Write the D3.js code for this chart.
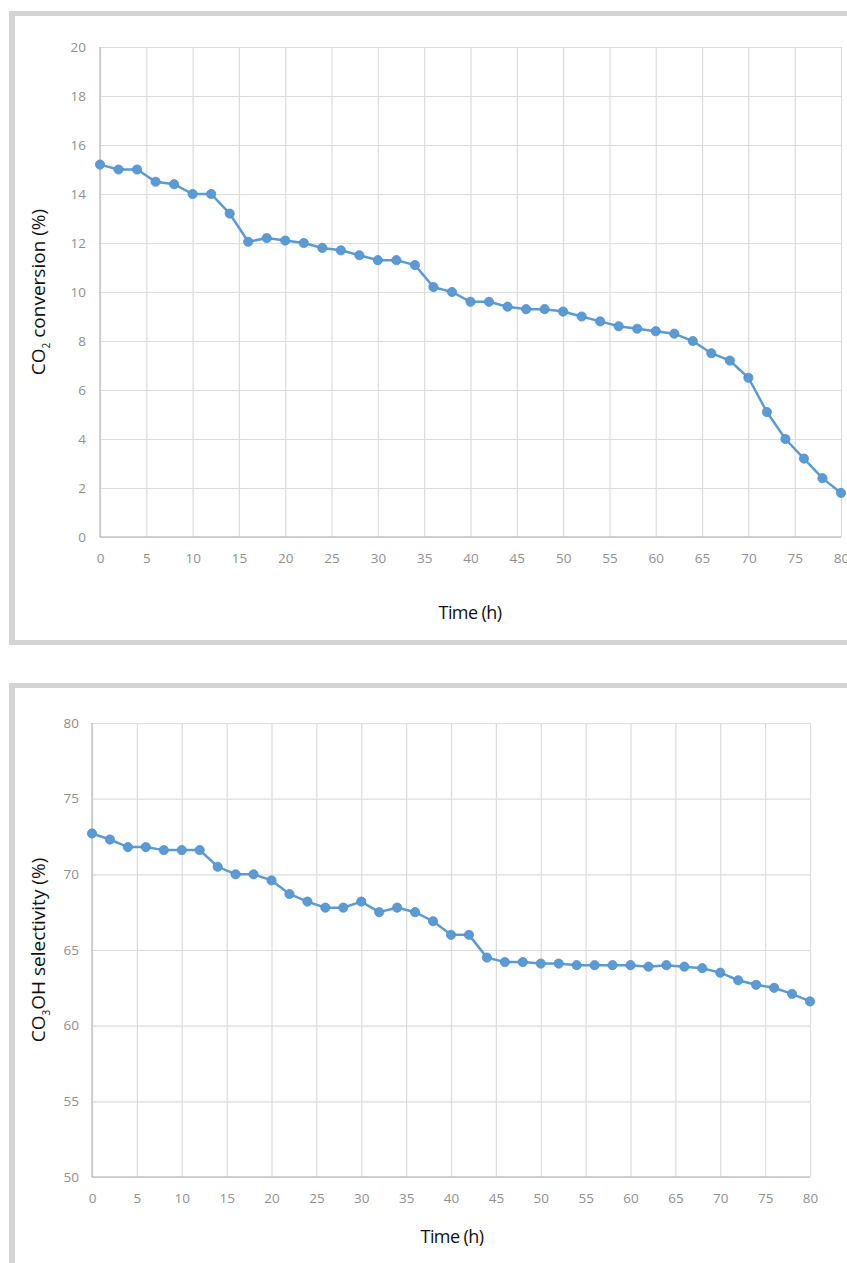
<!DOCTYPE html>
<html>
<head>
<meta charset="utf-8">
<script src="https://cdn.jsdelivr.net/npm/d3@7"></script>
<style>
  html, body { margin: 0; padding: 0; background: #ffffff; }
  svg { display: block; }
</style>
</head>
<body>
<svg id="chart" width="847" height="1263"></svg>
<script>
// ---- data ----
const timeH = [0,2,4,6,8,10,12,14,16,18,20,22,24,26,28,30,32,34,36,38,40,42,44,46,48,50,52,54,56,58,60,62,64,66,68,70,72,74,76,78,80];
const co2Conversion = [15.2,15.0,15.0,14.5,14.4,14.0,14.0,13.2,12.05,12.2,12.1,12.0,11.8,11.7,11.5,11.3,11.3,11.1,10.2,10.0,9.6,9.6,9.4,9.3,9.3,9.2,9.0,8.8,8.6,8.5,8.4,8.3,8.0,7.5,7.2,6.5,5.1,4.0,3.2,2.4,1.8];
const selectivity = [72.7,72.3,71.8,71.8,71.6,71.6,71.6,70.5,70.0,70.0,69.6,68.7,68.2,67.8,67.8,68.2,67.5,67.8,67.5,66.9,66.0,66.0,64.5,64.2,64.2,64.1,64.1,64.0,64.0,64.0,64.0,63.9,64.0,63.9,63.8,63.5,63.0,62.7,62.5,62.1,61.6];
const xTicks = [0,5,10,15,20,25,30,35,40,45,50,55,60,65,70,75,80];
const yTicksTop = [0,2,4,6,8,10,12,14,16,18,20];
const yTicksBottom = [50,55,60,65,70,75,80];

const svg = d3.select("#chart");
const BORDER = "#d3d4d6";
const BLUE = "#5b9bd5";
const GRID = "#dcdcdc";
const TICK_FONT = "'Open Sans', sans-serif";

// panel frames
function frame(top, bottom) {
  svg.append("rect").attr("x", 9).attr("y", top).attr("width", 838).attr("height", 5).attr("fill", BORDER);
  svg.append("rect").attr("x", 9).attr("y", top).attr("width", 6).attr("height", bottom - top).attr("fill", BORDER);
  if (bottom < 1263) {
    svg.append("rect").attr("x", 9).attr("y", bottom - 5).attr("width", 838).attr("height", 5).attr("fill", BORDER);
  }
}
frame(11, 645);
frame(683, 1263);

function drawChart(cfg) {
  const x = d3.scaleLinear().domain([0, 80]).range([cfg.left, cfg.right]);
  const y = d3.scaleLinear().domain(cfg.yDomain).range([cfg.bottom, cfg.top]);
  const g = svg.append("g");

  // vertical grid
  g.append("g")
    .attr("transform", `translate(0,${cfg.bottom})`)
    .call(d3.axisBottom(x).tickValues(xTicks).tickSize(-(cfg.bottom - cfg.top)).tickFormat(""))
    .call(s => s.select(".domain").remove())
    .call(s => s.selectAll("line").attr("stroke", GRID).attr("stroke-width", 1.2));

  // horizontal grid
  g.append("g")
    .attr("transform", `translate(${cfg.left},0)`)
    .call(d3.axisLeft(y).tickValues(cfg.yTicks).tickSize(-(cfg.right - cfg.left)).tickFormat(""))
    .call(s => s.select(".domain").remove())
    .call(s => s.selectAll("line").attr("stroke", GRID).attr("stroke-width", 1.2));

  // axis lines
  g.append("line").attr("x1", cfg.left).attr("x2", cfg.left).attr("y1", cfg.top).attr("y2", cfg.bottom)
    .attr("stroke", "#c4c4c4").attr("stroke-width", 1.5);
  g.append("line").attr("x1", cfg.left).attr("x2", cfg.right).attr("y1", cfg.bottom).attr("y2", cfg.bottom)
    .attr("stroke", "#c4c4c4").attr("stroke-width", 1.5);

  // x tick labels
  g.append("g")
    .attr("transform", `translate(0,${cfg.bottom})`)
    .call(d3.axisBottom(x).tickValues(xTicks).tickSize(0).tickPadding(16))
    .call(s => s.select(".domain").remove())
    .call(s => s.selectAll("text").attr("fill", "#8f8f8f").attr("font-size", 13.5).attr("font-family", TICK_FONT));

  // y tick labels
  g.append("g")
    .attr("transform", `translate(${cfg.left},0)`)
    .call(d3.axisLeft(y).tickValues(cfg.yTicks).tickSize(0).tickPadding(cfg.yPad))
    .call(s => s.select(".domain").remove())
    .call(s => s.selectAll("text").attr("fill", "#8f8f8f").attr("font-size", 13.5).attr("font-family", TICK_FONT));

  // series
  const pts = timeH.map((t, i) => [t, cfg.values[i]]);
  g.append("path")
    .datum(pts)
    .attr("fill", "none")
    .attr("stroke", BLUE)
    .attr("stroke-width", 2.5)
    .attr("d", d3.line().x(d => x(d[0])).y(d => y(d[1])));
  g.selectAll("circle.pt").data(pts).enter().append("circle")
    .attr("class", "pt")
    .attr("cx", d => x(d[0])).attr("cy", d => y(d[1]))
    .attr("r", 4.6)
    .attr("fill", BLUE)
    .attr("stroke", "#4f8fcb").attr("stroke-width", 0.8);

  // x title
  g.append("text")
    .attr("x", cfg.xTitleX).attr("y", cfg.xTitleY)
    .attr("text-anchor", "middle")
    .attr("font-family", "'Open Sans', sans-serif")
    .attr("font-size", 18)
    .attr("letter-spacing", -0.6)
    .attr("fill", "#111")
    .text("Time (h)");

  // y title (rotated, with subscript)
  const yt = g.append("text")
    .attr("transform", `translate(${cfg.yTitleX},${cfg.yTitleY}) rotate(-90)`)
    .attr("text-anchor", "middle")
    .attr("font-family", "'Open Sans', sans-serif")
    .attr("font-size", 19)
    .attr("fill", "#111");
  yt.append("tspan").text("CO");
  yt.append("tspan").attr("font-size", 10).attr("dy", 5).text(cfg.sub);
  yt.append("tspan").attr("dy", -5).text(cfg.rest);
}

drawChart({
  left: 100, right: 841, top: 47, bottom: 537,
  yDomain: [0, 20], yTicks: yTicksTop, yPad: 14,
  values: co2Conversion,
  xTitleX: 470, xTitleY: 619,
  yTitleX: 45, yTitleY: 292,
  sub: "2", rest: " conversion (%)"
});

drawChart({
  left: 92, right: 810, top: 723, bottom: 1177,
  yDomain: [50, 80], yTicks: yTicksBottom, yPad: 13,
  values: selectivity,
  xTitleX: 452, xTitleY: 1243,
  yTitleX: 45, yTitleY: 950,
  sub: "3", rest: "OH selectivity (%)"
});
</script>
</body>
</html>
